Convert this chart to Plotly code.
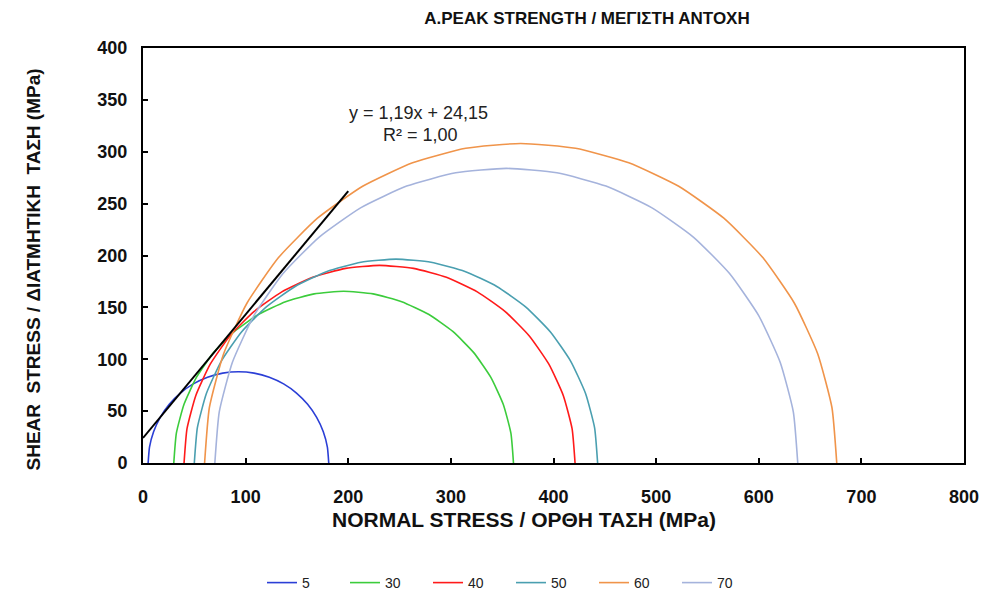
import numpy as np
import plotly.graph_objects as go

# Confining pressure (sigma3) and peak axial stress (sigma1) for each test, MPa
labels = ["5", "30", "40", "50", "60", "70"]
sigma3 = [5, 30, 40, 50, 60, 70]
sigma1 = [181, 361, 421, 443, 676, 638]
colors = ["#2b3fd6", "#3ccc3c", "#ff1a1a", "#4a9fb0", "#f0944a", "#a5b3dc"]

# Linear failure envelope
slope = 1.19
intercept = 24.15
env_x = [0, 200]

x_ticks = [0, 100, 200, 300, 400, 500, 600, 700, 800]
y_ticks = [0, 50, 100, 150, 200, 250, 300, 350, 400]

FONT = "Liberation Sans, Arial, sans-serif"

W, H = 987, 593
L, R, T, B = 143, 23, 48, 130
pw, ph = W - L - R, H - T - B


def px(xp):
    return (xp - L) / pw


def py(yp):
    return (H - B - yp) / ph


fig = go.Figure()

# Mohr semicircles sampled every 10 degrees
theta = np.radians(np.arange(180, -1, -10))
for name, s3, s1, c in zip(labels, sigma3, sigma1, colors):
    centre = (s1 + s3) / 2
    radius = (s1 - s3) / 2
    fig.add_trace(go.Scatter(
        x=centre + radius * np.cos(theta),
        y=radius * np.sin(theta),
        mode="lines", name=name,
        line=dict(color=c, width=1.6, shape="spline", smoothing=0.5),
    ))

env_y = [slope * v + intercept for v in env_x]
fig.add_trace(go.Scatter(
    x=env_x, y=env_y, mode="lines", showlegend=False,
    line=dict(color="black", width=2),
))

fig.add_annotation(x=268, y=337, xref="x", yref="y", showarrow=False,
                   text=f"y = {slope:.2f}x + {intercept:.2f}".replace(".", ","),
                   font=dict(family=FONT, size=18, color="#222"))
fig.add_annotation(x=270, y=316, xref="x", yref="y", showarrow=False,
                   text="R² = 1,00",
                   font=dict(family=FONT, size=18, color="#222"))

# Axis titles
fig.add_annotation(x=px(524), y=py(533), xref="paper", yref="paper", showarrow=False,
                   text="<b>NORMAL STRESS / ΟΡΘΗ ΤΑΣΗ (MPa)</b>",
                   font=dict(family=FONT, size=21, color="#111"))
fig.add_annotation(x=px(20), y=py(270), xref="paper", yref="paper", showarrow=False,
                   textangle=-90,
                   text="<b>SHEAR  STRESS / ΔΙΑΤΜΗΤΙΚΗ  ΤΑΣΗ (MPa)</b>",
                   font=dict(family=FONT, size=19, color="#111"))

fig.update_layout(
    width=W, height=H,
    margin=dict(l=L, r=R, t=T, b=B, autoexpand=False),
    paper_bgcolor="white", plot_bgcolor="white",
    title=dict(text="<b>A.PEAK STRENGTH / ΜΕΓΙΣΤΗ ΑΝΤΟΧΗ</b>",
               x=587 / W, xanchor="center", xref="container",
               y=1 - 18 / H, yanchor="middle", yref="container",
               font=dict(family=FONT, size=17, color="#111")),
    showlegend=True,
    legend=dict(orientation="h", x=262 / W, xref="container", xanchor="left",
                y=1 - 583 / H, yref="container", yanchor="middle",
                entrywidth=38, entrywidthmode="pixels",
                font=dict(family=FONT, size=14, color="#222"),
                bgcolor="rgba(0,0,0,0)"),
)

axis_common = dict(
    showgrid=False, zeroline=False,
    showline=True, linecolor="black", linewidth=2, mirror=True,
    ticks="inside", ticklen=5, tickcolor="black", tickwidth=1.5,
    tickfont=dict(family=FONT, size=18, color="#111", weight="bold"),
)
fig.update_xaxes(range=[0, 800], tickvals=x_ticks, ticktext=[str(v) for v in x_ticks],
                 ticklabelstandoff=16, **axis_common)
fig.update_yaxes(range=[0, 400], tickvals=y_ticks, ticktext=[str(v) for v in y_ticks],
                 ticklabelstandoff=10, **axis_common)

fig.write_html("out.html")
